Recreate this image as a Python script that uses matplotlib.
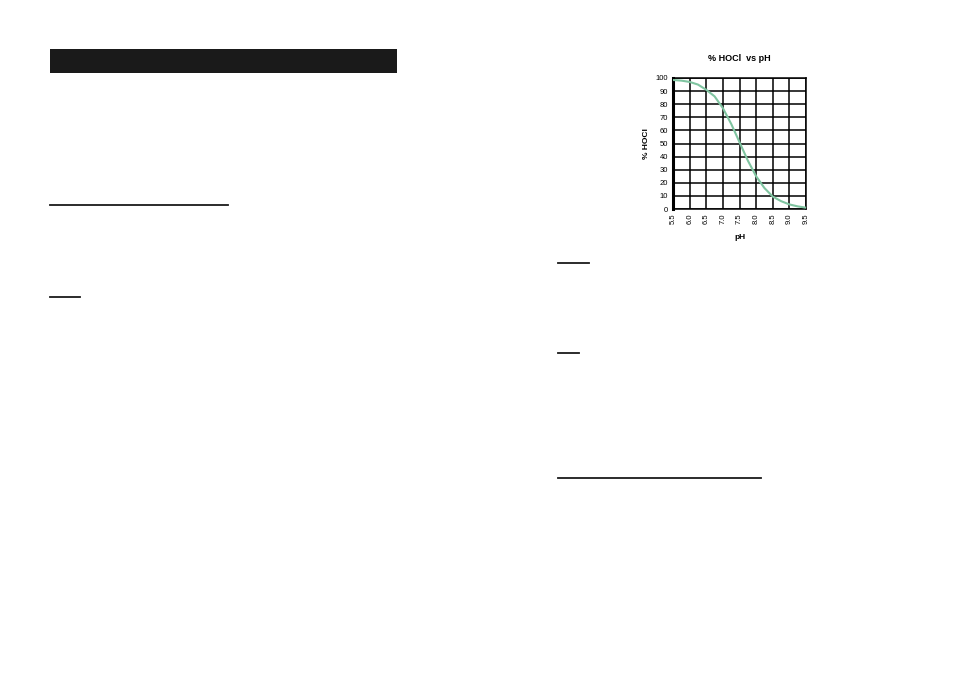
import matplotlib
matplotlib.use("Agg")
import matplotlib.pyplot as plt
from matplotlib.patches import Rectangle
from matplotlib.lines import Line2D

ph = [5.5, 5.75, 6.0, 6.25, 6.5, 6.75, 7.0, 7.25, 7.5, 7.75, 8.0, 8.25, 8.5, 8.75, 9.0, 9.25, 9.5]
hocl = [98.5, 98, 97, 95, 91, 86, 77, 65, 51, 37, 25, 16, 9.5, 6, 3.5, 2, 1]
xticks = [5.5, 6.0, 6.5, 7.0, 7.5, 8.0, 8.5, 9.0, 9.5]
xticklabels = ["5.5", "6.0", "6.5", "7.0", "7.5", "8.0", "8.5", "9.0", "9.5"]
yticks = [0, 10, 20, 30, 40, 50, 60, 70, 80, 90, 100]

W, H = 954, 674
fig = plt.figure(figsize=(W / 100, H / 100), dpi=100)
fig.patch.set_facecolor("white")

# page decorations
fig.add_artist(Rectangle((50 / W, 1 - 73 / H), 347 / W, 24 / H, transform=fig.transFigure,
                         facecolor="#1a1a1a", edgecolor="none"))
for (x0, x1, y) in [(50, 228, 205), (50, 80, 297), (558, 589, 263), (558, 579, 353), (558, 761, 478)]:
    fig.add_artist(Line2D([x0 / W, x1 / W], [1 - y / H, 1 - y / H], transform=fig.transFigure,
                          color="#1a1a1a", lw=1.3))

# chart
l, r, t, b = 673, 806, 78, 209
ax = fig.add_axes([l / W, 1 - b / H, (r - l) / W, (b - t) / H])
ax.plot(ph, hocl, color="#7fc4a0", lw=1.5, zorder=3)
ax.set_xlim(5.5, 9.5)
ax.set_ylim(0, 100)
ax.set_xticks(xticks)
ax.set_xticklabels(xticklabels, rotation=90, fontsize=5.5, family="Liberation Sans")
ax.set_yticks(yticks)
ax.set_yticklabels([str(v) for v in yticks], fontsize=5.5, family="Liberation Sans")
ax.grid(True, color="black", lw=1.1)
ax.tick_params(length=0, pad=3.5)
for s in ax.spines.values():
    s.set_color("black")
    s.set_linewidth(1.1)
ax.spines["left"].set_linewidth(2.2)
ax.set_axisbelow(True)
ax.set_xlabel("pH", fontsize=6, fontweight="bold", family="Liberation Sans", labelpad=7)
ax.set_ylabel("% HOCl", fontsize=6, fontweight="bold", family="Liberation Sans", labelpad=4)
ax.set_title("% HOCl  vs pH", fontsize=6.5, fontweight="bold", family="Liberation Sans", pad=12)

fig.savefig("out.png", dpi=100, facecolor="white")
